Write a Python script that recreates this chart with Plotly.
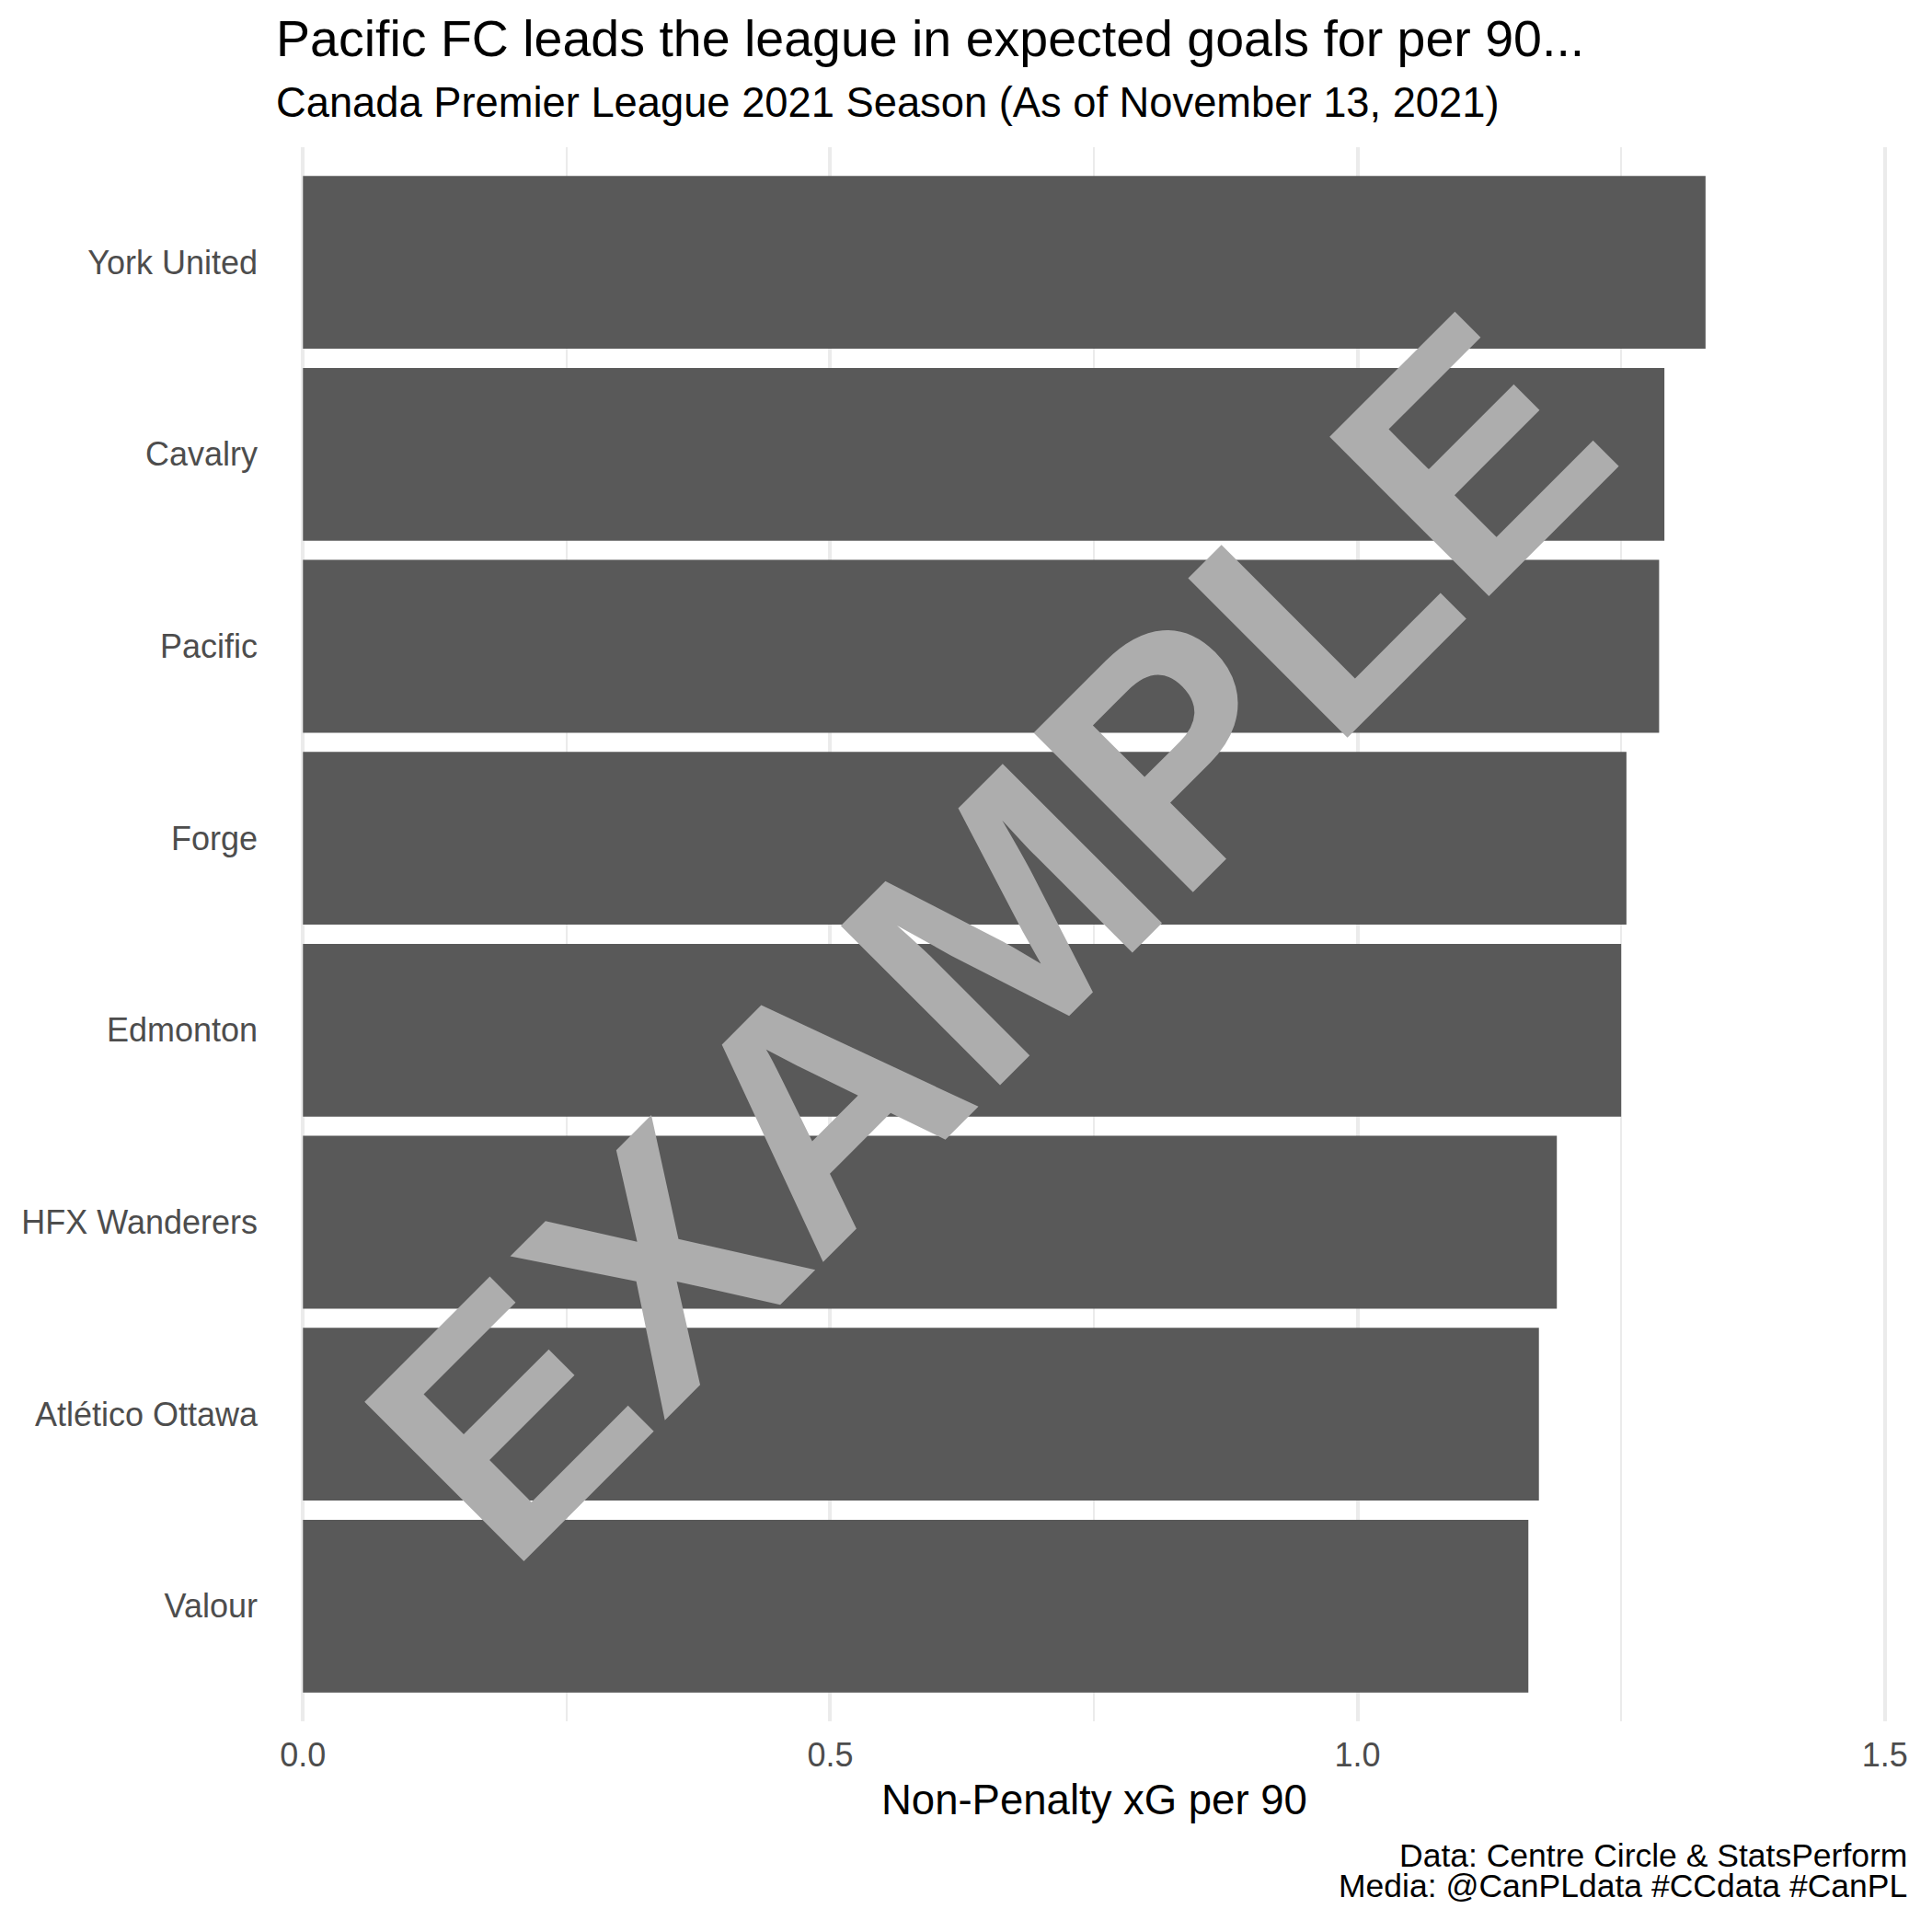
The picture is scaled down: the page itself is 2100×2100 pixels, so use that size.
import plotly.graph_objects as go

# ---- data ----
teams = ["York United", "Cavalry", "Pacific", "Forge", "Edmonton",
         "HFX Wanderers", "Atlético Ottawa", "Valour"]
npxg_per90 = [1.330, 1.291, 1.286, 1.255, 1.250, 1.189, 1.172, 1.162]
x_tickvals = [0.0, 0.5, 1.0, 1.5]
x_ticktext = ["0.0", "0.5", "1.0", "1.5"]

title_text = "Pacific FC leads the league in expected goals for per 90..."
subtitle_text = "Canada Premier League 2021 Season (As of November 13, 2021)"
xaxis_title = "Non-Penalty xG per 90"
caption_lines = ["Data: Centre Circle &amp; StatsPerform",
                 "Media: @CanPLdata #CCdata #CanPL"]
watermark = "EXAMPLE"

# ---- layout geometry (pixels) ----
W = H = 2100
pad = 0.002
px_per_unit = 1146.7
plot_left = 329 - pad * px_per_unit
plot_right = 2049 + pad * px_per_unit
plot_top = 160
plot_bottom = 1871
pw = plot_right - plot_left
ph = plot_bottom - plot_top

def px2x(px):
    return (px - plot_left) / pw

def px2y(py):
    return (plot_bottom - py) / ph

FONT = "Liberation Sans"

fig = go.Figure(go.Bar(
    x=npxg_per90,
    y=teams,
    orientation="h",
    width=0.9,
    marker=dict(color="#595959", line=dict(width=0)),
    hoverinfo="skip",
))

fig.update_layout(
    width=W, height=H,
    margin=dict(l=plot_left, r=W - plot_right, t=plot_top, b=H - plot_bottom, pad=0),
    paper_bgcolor="white",
    plot_bgcolor="white",
    font=dict(family=FONT, color="black"),
    showlegend=False,
    bargap=0.1,
)

fig.update_xaxes(
    range=[-pad, 1.5 + pad],
    tickvals=x_tickvals,
    ticktext=x_ticktext,
    showgrid=True, gridcolor="#EBEBEB", gridwidth=4.4,
    minor=dict(dtick=0.25, tick0=0, showgrid=True, gridcolor="#EBEBEB", gridwidth=2.2),
    zeroline=False, showline=False, ticks="",
    tickfont=dict(family=FONT, size=36, color="#4D4D4D"),
    ticklabelstandoff=12,
)
fig.update_yaxes(
    type="category",
    categoryorder="array", categoryarray=teams,
    range=[len(teams) - 0.4, -0.6],
    showgrid=False, zeroline=False, showline=False, ticks="",
    tickfont=dict(family=FONT, size=36, color="#4D4D4D"),
    ticklabelstandoff=46,
)

ann = []
# title & subtitle
ann.append(dict(text=title_text, x=px2x(298), y=px2y(42), xref="paper", yref="paper",
                xanchor="left", yanchor="middle", showarrow=False,
                font=dict(family=FONT, size=55.5, color="black")))
ann.append(dict(text=subtitle_text, x=px2x(298), y=px2y(112), xref="paper", yref="paper",
                xanchor="left", yanchor="middle", showarrow=False,
                font=dict(family=FONT, size=45.3, color="black")))
# axis title
ann.append(dict(text=xaxis_title, x=px2x(1189), y=px2y(1956), xref="paper", yref="paper",
                xanchor="center", yanchor="middle", showarrow=False,
                font=dict(family=FONT, size=45.5, color="black")))
# caption
for line, yy in zip(caption_lines, [2017, 2050]):
    ann.append(dict(text=line, x=px2x(2075), y=px2y(yy), xref="paper", yref="paper",
                    xanchor="right", yanchor="middle", showarrow=False,
                    font=dict(family=FONT, size=35.5, color="black")))
# watermark
ann.append(dict(text=watermark, x=px2x(1073), y=px2y(1018), xref="paper", yref="paper",
                xanchor="center", yanchor="middle", showarrow=False, textangle=-45,
                font=dict(family=FONT, size=356, color="#ADADAD", weight="bold")))

fig.update_layout(annotations=ann)
fig.write_html("out.html")
